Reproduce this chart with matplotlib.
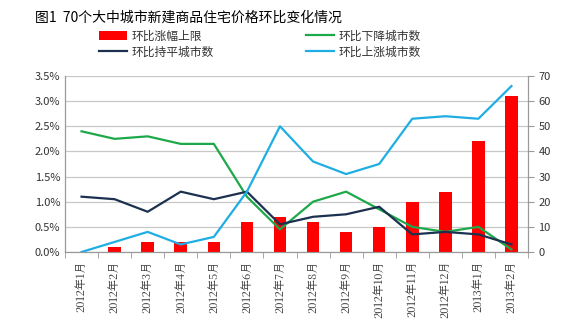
import matplotlib.pyplot as plt
import numpy as np

plt.rcParams['font.family'] = ['Noto Sans CJK SC', 'DejaVu Sans']

months = ["2012年1月", "2012年2月", "2012年3月", "2012年4月", "2012年5月", "2012年6月",
          "2012年7月", "2012年8月", "2012年9月", "2012年10月", "2012年11月", "2012年12月",
          "2013年1月", "2013年2月"]
rise_cap = [0.0, 0.1, 0.2, 0.2, 0.2, 0.6, 0.7, 0.6, 0.4, 0.5, 1.0, 1.2, 2.2, 3.1]
down_cities = [48, 45, 46, 43, 43, 22, 9, 20, 24, 17, 10, 8, 10, 1]
flat_cities = [22, 21, 16, 24, 21, 24, 11, 14, 15, 18, 7, 8, 7, 3]
up_cities = [0, 4, 8, 3, 6, 24, 50, 36, 31, 35, 53, 54, 53, 66]

fig = plt.figure(figsize=(5.78, 3.32), dpi=100)
ax = fig.add_axes([65 / 578, 1 - 252 / 332, (528 - 65) / 578, (252 - 76) / 332])
ax2 = ax.twinx()

x = np.arange(len(months))
bars = ax.bar(x, rise_cap, width=0.38, color="#ff0000", zorder=2)
ax.set_ylim(0, 3.5)
ax.set_yticks(np.arange(0, 3.51, 0.5))
ax.set_yticklabels([f"{v:.1f}%" for v in np.arange(0, 3.51, 0.5)])
ax.set_xlim(-0.5, len(months) - 0.5)
ax.set_xticks(x)
ax.set_xticklabels(months, rotation=90, fontsize=8, color="#333333",
                   family=["Noto Serif CJK SC", "Noto Sans CJK SC", "DejaVu Sans"])
ax.set_xticks(np.arange(-0.5, len(months), 1), minor=True)
ax.tick_params(axis="x", which="major", length=0, pad=6)
ax.tick_params(axis="x", which="minor", length=4, color="#999999")
ax.tick_params(axis="y", length=0, labelsize=8, colors="#333333")
ax.grid(axis="y", color="#c8c8c8", linewidth=0.9, zorder=0)
ax.set_axisbelow(True)

l_down, = ax2.plot(x, down_cities, color="#1da84a", linewidth=1.6)
l_flat, = ax2.plot(x, flat_cities, color="#1c3150", linewidth=1.6)
l_up, = ax2.plot(x, up_cities, color="#1eaee4", linewidth=1.6)
ax2.set_ylim(0, 70)
ax2.set_yticks(range(0, 71, 10))
ax2.tick_params(axis="y", length=4, color="#999999", labelsize=8, colors="#333333")

for a in (ax, ax2):
    a.spines["top"].set_visible(False)
    for s in ("left", "right", "bottom"):
        a.spines[s].set_color("#999999")

fig.text(35 / 578, 1 - 18 / 332, "图1  70个大中城市新建商品住宅价格环比变化情况",
         fontsize=10, va="center", ha="left")
fig.legend([bars, l_flat, l_down, l_up],
           ["环比涨幅上限", "环比持平城市数", "环比下降城市数", "环比上涨城市数"],
           ncol=2, loc="center left", bbox_to_anchor=(88 / 578, 1 - 44 / 332), frameon=False,
           fontsize=8.5, columnspacing=7.8, handlelength=2.4, labelspacing=0.25,
           handletextpad=0.4, labelcolor="#333333")

fig.savefig("out.png", dpi=100)
